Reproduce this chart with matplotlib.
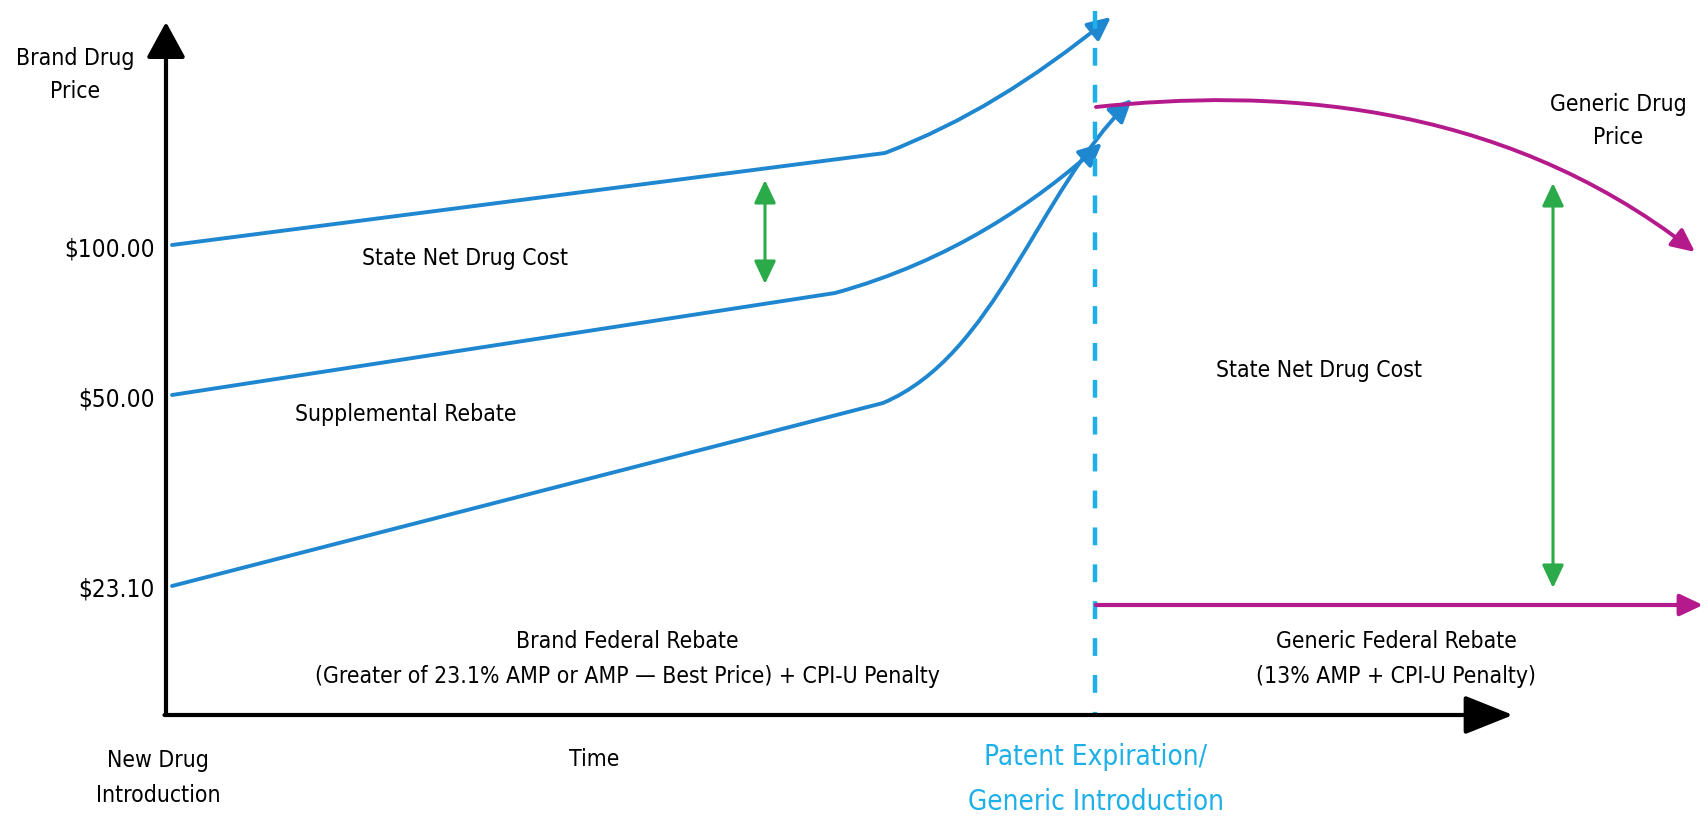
import matplotlib
matplotlib.use('Agg')
import matplotlib.pyplot as plt
from matplotlib.path import Path
from matplotlib.patches import FancyArrowPatch

# price levels (diagram units) where the brand curves start, and their labels
start_levels = [47.0, 32.0, 12.9]
level_labels = ['$100.00', '$50.00', '$23.10']

# brand price curves: straight run to a knee, then bezier control points up to the tip
upper_x = [0.6, 71.9, 79.9, 86.5, 94.5]
upper_y = [start_levels[0], 56.2, 59.3, 63.4, 69.8]
middle_x = [0.6, 66.9, 78.5, 87.0, 93.6]
middle_y = [start_levels[1], 42.2, 45.4, 51.3, 57.2]
lower_x = [0.6, 71.7, 83.0, 87.0, 96.6]
lower_y = [start_levels[2], 31.2, 36.0, 52.0, 61.6]

# generic price after patent expiration
generic_x = [93.0, 110.0, 133.0, 152.9]
generic_y = [60.8, 62.6, 61.8, 46.3]

patent_x = 92.9
generic_rebate_y = 11.0
generic_rebate_x = [93.0, 153.7]

# double arrows marking the state net drug cost
gap_left_x = 59.9
gap_left_y = [43.1, 53.5]
gap_right_x = 138.7
gap_right_y = [12.7, 53.2]

blue = '#1f86d0'
light_blue = '#1db0e8'
magenta = '#b41a8b'
green = '#2baa4a'

fonts = ['Liberation Sans Narrow', 'DejaVu Sans']
fs = 16.5

fig = plt.figure(figsize=(17.06, 8.17), dpi=100)
ax = fig.add_axes([0, 0, 1, 1])
ax.set_xlim(-16.6, 154.0)
ax.set_ylim(-10.2, 71.5)
ax.axis('off')

def arrow(x0, y0, x1, y1, color, lw, style):
    ax.annotate('', xy=(x1, y1), xytext=(x0, y0),
                arrowprops=dict(arrowstyle=style, color=color, lw=lw,
                                shrinkA=0, shrinkB=0, mutation_scale=20))

# axes
arrow(0, 0, 0, 69.3, 'black', 3, '-|>,head_length=1.1,head_width=0.6')
arrow(-0.15, 0, 134.7, 0, 'black', 3, '-|>,head_length=1.5,head_width=0.6')

# patent expiration line
ax.plot([patent_x, patent_x], [70.4, 0.2], color=light_blue, lw=3.2,
        linestyle=(0, (4, 4.3)))

def curve(xs, ys, n_straight, color):
    codes = [Path.MOVETO] + [Path.LINETO] * n_straight
    codes += [Path.CURVE4] * (len(xs) - len(codes))
    p = Path(list(zip(xs, ys)), codes)
    ax.add_patch(FancyArrowPatch(path=p, arrowstyle='-|>,head_length=0.7,head_width=0.33',
                                 mutation_scale=20, color=color, lw=2.8))

curve(upper_x, upper_y, 1, blue)
curve(middle_x, middle_y, 1, blue)
curve(lower_x, lower_y, 1, blue)
curve(generic_x, generic_y, 0, magenta)

arrow(generic_rebate_x[0], generic_rebate_y, generic_rebate_x[1], generic_rebate_y,
      magenta, 3, '-|>,head_length=0.7,head_width=0.33')

arrow(gap_left_x, gap_left_y[0], gap_left_x, gap_left_y[1], green, 2.2,
      '<|-|>,head_length=0.7,head_width=0.33')
arrow(gap_right_x, gap_right_y[0], gap_right_x, gap_right_y[1], green, 2.2,
      '<|-|>,head_length=0.7,head_width=0.33')

def label(x, y, s, color='black', size=fs, ha='center'):
    ax.text(x, y, s, ha=ha, va='center', fontsize=size, color=color,
            family=fonts, fontstretch='condensed')

for lvl, lab in zip(start_levels, level_labels):
    label(-1.1, lvl - 0.4, lab, ha='right', size=17.5)

label(-9.1, 65.6, 'Brand Drug')
label(-9.1, 62.3, 'Price')
label(29.9, 45.7, 'State Net Drug Cost')
label(24.0, 30.0, 'Supplemental Rebate')
label(46.1, 7.3, 'Brand Federal Rebate')
label(46.1, 3.8, '(Greater of 23.1% AMP or AMP \u2014 Best Price) + CPI-U Penalty')
label(115.3, 34.5, 'State Net Drug Cost')
label(145.2, 61.0, 'Generic Drug')
label(145.2, 57.8, 'Price')
label(123.0, 7.3, 'Generic Federal Rebate')
label(123.0, 3.8, '(13% AMP + CPI-U Penalty)')
label(-0.8, -4.5, 'New Drug')
label(-0.8, -8.0, 'Introduction')
label(42.8, -4.5, 'Time')
label(93.0, -4.2, 'Patent Expiration/', color=light_blue, size=20)
label(93.0, -8.7, 'Generic Introduction', color=light_blue, size=20)

fig.savefig('out.png', dpi=100)
